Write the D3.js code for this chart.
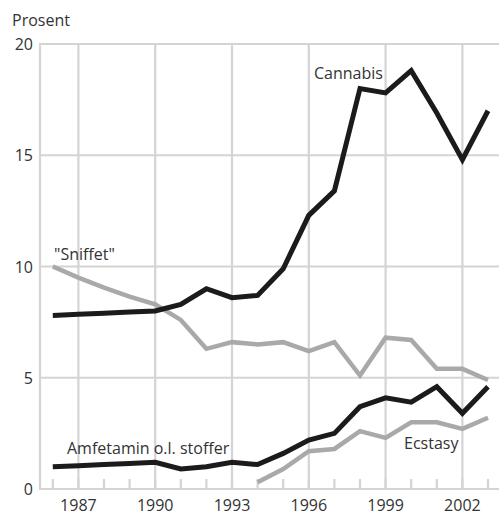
<!DOCTYPE html>
<html>
<head>
<meta charset="utf-8">
<script src="https://cdn.jsdelivr.net/npm/d3@7"></script>
<style>
  body { margin: 0; background: #fff; }
  svg { display: block; font-family: 'Open Sans', 'Noto Sans', sans-serif; }
</style>
</head>
<body>
<div id="chart"></div>
<script>
const years = d3.range(1986, 2004);
const gridYears = [1987, 1990, 1993, 1996, 1999, 2002];
const yTicks = [0, 5, 10, 15, 20];

const cannabis = [7.8, 7.85, 7.9, 7.95, 8.0, 8.3, 9.0, 8.6, 8.7, 9.9, 12.3, 13.4, 18.0, 17.8, 18.8, 16.9, 14.8, 17.0];
const sniffet = [10.0, 9.5, 9.05, 8.65, 8.3, 7.6, 6.3, 6.6, 6.5, 6.6, 6.2, 6.6, 5.1, 6.8, 6.7, 5.4, 5.4, 4.9];
const amfetamin = [1.0, 1.05, 1.1, 1.15, 1.2, 0.9, 1.0, 1.2, 1.1, 1.6, 2.2, 2.5, 3.7, 4.1, 3.9, 4.6, 3.4, 4.6];
const ecstasyYears = d3.range(1994, 2004);
const ecstasy = [0.3, 0.9, 1.7, 1.8, 2.6, 2.3, 3.0, 3.0, 2.7, 3.2];

const width = 499, height = 515;
const svg = d3.select('#chart').append('svg')
  .attr('width', width)
  .attr('height', height);

const x = d3.scaleLinear().domain([1985.5, 2003.43]).range([40, 499]);
const y = d3.scaleLinear().domain([0, 20]).range([489, 44]);

const gridColor = '#d4d4d4';
const textColor = '#333';

// grid
svg.append('g')
  .attr('stroke', gridColor)
  .attr('stroke-width', 2.2)
  .selectAll('line')
  .data(yTicks.filter(d => d > 0))
  .join('line')
  .attr('x1', x.range()[0]).attr('x2', x.range()[1])
  .attr('y1', d => y(d)).attr('y2', d => y(d));

svg.append('g')
  .attr('stroke', gridColor)
  .attr('stroke-width', 2.2)
  .selectAll('line')
  .data(gridYears)
  .join('line')
  .attr('x1', d => x(d)).attr('x2', d => x(d))
  .attr('y1', y(0)).attr('y2', y(20));

// minor year ticks
svg.append('g')
  .attr('stroke', gridColor)
  .attr('stroke-width', 2.2)
  .selectAll('line')
  .data(years)
  .join('line')
  .attr('x1', d => x(d)).attr('x2', d => x(d))
  .attr('y1', y(0)).attr('y2', y(0) - 10);

// axis lines
svg.append('line')
  .attr('stroke', gridColor).attr('stroke-width', 2.2)
  .attr('x1', x.range()[0]).attr('x2', x.range()[0])
  .attr('y1', y(0) + 1).attr('y2', y(20) - 1);
svg.append('line')
  .attr('stroke', gridColor).attr('stroke-width', 2.2)
  .attr('x1', x.range()[0] - 1).attr('x2', x.range()[1])
  .attr('y1', y(0)).attr('y2', y(0));

// y labels
svg.append('g')
  .attr('fill', textColor)
  .attr('font-size', 16)
  .attr('text-anchor', 'end')
  .selectAll('text')
  .data(yTicks)
  .join('text')
  .attr('x', 33)
  .attr('y', d => y(d) + 6)
  .text(d => d);

svg.append('text')
  .attr('x', 12).attr('y', 26)
  .attr('fill', textColor)
  .attr('font-size', 16)
  .text('Prosent');

// x labels
svg.append('g')
  .attr('fill', textColor)
  .attr('font-size', 16)
  .attr('text-anchor', 'middle')
  .selectAll('text')
  .data(gridYears)
  .join('text')
  .attr('x', d => x(d))
  .attr('y', 511)
  .text(d => d);

// series
const line = d3.line().x(d => x(d[0])).y(d => y(d[1]));
const series = [
  { values: sniffet, yrs: years, color: '#a9a9a9', w: 4.5 },
  { values: ecstasy, yrs: ecstasyYears, color: '#a9a9a9', w: 4.5 },
  { values: amfetamin, yrs: years, color: '#1c1a1a', w: 5 },
  { values: cannabis, yrs: years, color: '#1c1a1a', w: 5 }
];

svg.append('g')
  .attr('fill', 'none')
  .selectAll('path')
  .data(series)
  .join('path')
  .attr('stroke', d => d.color)
  .attr('stroke-width', d => d.w)
  .attr('stroke-linejoin', 'miter')
  .attr('d', d => line(d.values.map((v, i) => [d.yrs[i], v])));

// series labels
const labels = [
  { text: 'Cannabis', x: 314, y: 79 },
  { text: '"Sniffet"', x: 54, y: 260 },
  { text: 'Amfetamin o.l. stoffer', x: 67, y: 454 },
  { text: 'Ecstasy', x: 404, y: 449 }
];
svg.append('g')
  .attr('fill', textColor)
  .attr('font-size', 16)
  .selectAll('text')
  .data(labels)
  .join('text')
  .attr('x', d => d.x)
  .attr('y', d => d.y)
  .text(d => d.text);
</script>
</body>
</html>
